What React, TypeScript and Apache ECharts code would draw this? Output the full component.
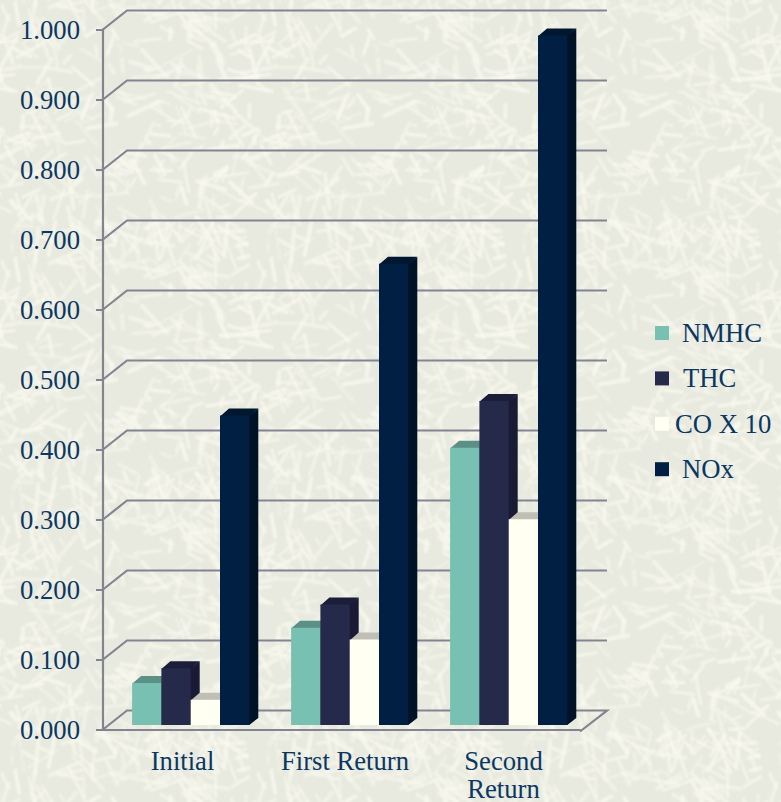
import React, { useEffect, useRef } from "react";
import * as echarts from "echarts";

const categories = ["Initial", "First Return", "Second\nReturn"];
const labelShift = [0, 7, 6];
const tickValues = [0, 0.1, 0.2, 0.3, 0.4, 0.5, 0.6, 0.7, 0.8, 0.9, 1.0];
const nmhc = [0.06, 0.139, 0.396];
const thc = [0.081, 0.172, 0.463];
const coX10 = [0.036, 0.122, 0.294];
const nox = [0.442, 0.659, 0.985];

const seriesNames = ["NMHC", "THC", "CO X 10", "NOx"];
const seriesValues = [nmhc, thc, coX10, nox];
const frontColors = ["#78C0B1", "#262A4A", "#FFFFF2", "#001F42"];
const topColors = ["#5A9085", "#1B1E38", "#BFBFB5", "#001730"];
const sideColors = ["#4E7F75", "#181B33", "#A9A9A0", "#001226"];
const legendPad = [8, 9, 1, 8];

const INK = "#0B3763";
const RULE = "#828492";
const FONT = '"Liberation Serif", "Times New Roman", serif';
const TEXT_SIZE = 26.67;

// Perspective offsets of the floor and of each bar's depth.
const WALL_DX = 24;
const WALL_DY = -19;
const BAR_DX = 9;
const BAR_DY = -7;
const BAR_W = 29.3;
const GROUP_SHIFT = 8.2;
const FLOOR_LIFT = 4.5;
// The side and top faces run slightly under the front face so no seam shows.
const SEAM = 0.8;

// Lays a tile of pale straw flecks on a canvas and returns it as an image URL.
function strawTexture(): string {
  const size = 256;
  const c = document.createElement("canvas");
  c.width = size;
  c.height = size;
  const g = c.getContext("2d")!;
  g.fillStyle = "#E9EADF";
  g.fillRect(0, 0, size, size);
  let s = 12345;
  const next = () => {
    s = (s * 1103515245 + 12345) & 0x7fffffff;
    return s / 0x7fffffff;
  };
  g.filter = "blur(0.8px)";
  g.lineCap = "butt";
  for (let i = 0; i < 360; i++) {
    const x = next() * size;
    const y = next() * size;
    const a = next() * Math.PI * 2;
    const len = 10 + next() * 30;
    const w = 2.4 + next() * 2;
    const alpha = 0.4 + next() * 0.45;
    g.strokeStyle = `rgba(248,248,238,${alpha})`;
    g.lineWidth = w;
    for (const ox of [-size, 0, size]) {
      for (const oy of [-size, 0, size]) {
        g.beginPath();
        g.moveTo(x + ox, y + oy);
        g.lineTo(x + ox + Math.cos(a) * len, y + oy + Math.sin(a) * len);
        g.stroke();
      }
    }
  }
  return c.toDataURL();
}

function barRenderer(seriesIndex: number) {
  return (_params: any, api: any) => {
    const cat = api.value(0);
    const val = api.value(1);
    const base = api.coord([cat, 0]);
    const top = api.coord([cat, val]);
    const x = base[0] + GROUP_SHIFT - 2 * BAR_W + seriesIndex * BAR_W;
    const y0 = base[1] - FLOOR_LIFT;
    const y1 = top[1] - FLOOR_LIFT;
    const x1 = x + BAR_W;
    return {
      type: "group",
      children: [
        {
          type: "polygon",
          shape: {
            points: [
              [x, y1 + SEAM],
              [x + BAR_DX, y1 + BAR_DY],
              [x1 + BAR_DX, y1 + BAR_DY],
              [x1, y1 + SEAM],
            ],
          },
          style: { fill: topColors[seriesIndex] },
        },
        {
          type: "polygon",
          shape: {
            points: [
              [x1 - SEAM, y1],
              [x1, y1],
              [x1 + BAR_DX, y1 + BAR_DY],
              [x1 + BAR_DX, y0 + BAR_DY],
              [x1, y0],
              [x1 - SEAM, y0],
            ],
          },
          style: { fill: sideColors[seriesIndex] },
        },
        { type: "rect", shape: { x, y: y1, width: BAR_W, height: y0 - y1 }, style: { fill: frontColors[seriesIndex] } },
      ],
    };
  };
}

export default function App() {
  const ref = useRef<HTMLDivElement>(null);

  useEffect(() => {
    ref.current!.style.backgroundImage = `url(${strawTexture()})`;
    const chart = echarts.init(ref.current!, undefined, { renderer: "svg" });
    chart.setOption({
      animation: false,
      backgroundColor: "transparent",
      textStyle: { fontFamily: FONT },
      grid: { left: 103, right: 201, top: 29.5, bottom: 72.5, containLabel: false, outerBoundsMode: "none" },
      legend: {
        orient: "vertical",
        left: 650,
        top: 313,
        itemWidth: 14,
        itemHeight: 14,
        itemGap: 15.4,
        icon: "rect",
        selectedMode: false,
        textStyle: { color: INK, fontSize: TEXT_SIZE, fontFamily: FONT, height: 30, lineHeight: 30 },
        data: seriesNames.map((name, i) => ({ name, textStyle: { padding: [0, 0, 0, legendPad[i]] } })),
      },
      xAxis: {
        type: "category",
        data: categories.map((value, i) => ({ value, textStyle: { padding: [0, 0, 0, labelShift[i]] } })),
        offset: 2,
        axisLine: { lineStyle: { color: RULE, width: 2.2 } },
        axisTick: { alignWithLabel: false, length: 6, lineStyle: { color: RULE, width: 2 } },
        axisLabel: { color: INK, fontSize: TEXT_SIZE, fontFamily: FONT, margin: 15, lineHeight: 28, interval: 0 },
      },
      yAxis: {
        type: "value",
        min: 0,
        max: 1,
        interval: 0.1,
        splitLine: { show: false },
        axisLine: { show: true, lineStyle: { color: RULE, width: 2.2 } },
        axisTick: { show: true, length: 7, lineStyle: { color: RULE, width: 2 } },
        axisLabel: { color: INK, fontSize: TEXT_SIZE, fontFamily: FONT, margin: 23, formatter: (v: number) => v.toFixed(3) },
      },
      series: [
        {
          // Back wall rules and the floor's far edge, one polyline per tick.
          type: "custom",
          silent: true,
          z: 1,
          data: tickValues.map((v) => [0, v]),
          encode: { x: 0, y: 1 },
          renderItem: (params: any, api: any) => {
            const p = api.coord([0, api.value(1)]);
            const left = params.coordSys.x;
            const right = left + params.coordSys.width;
            const points = [[left, p[1]], [left + WALL_DX, p[1] + WALL_DY], [right + 27, p[1] + WALL_DY]];
            if (api.value(1) === 0) points.push([right, p[1] + 2]);
            return {
              type: "polyline",
              shape: { points },
              style: { stroke: RULE, lineWidth: 2.2, fill: "none" },
            };
          },
        },
        ...seriesNames.map((name, i) => ({
          name,
          type: "custom",
          z: 2,
          itemStyle: { color: frontColors[i] },
          data: seriesValues[i].map((v, c) => [c, v]),
          encode: { x: 0, y: 1 },
          renderItem: barRenderer(i),
        })),
      ],
    });
    return () => chart.dispose();
  }, []);

  return (
    <div
      ref={ref}
      style={{ position: "absolute", left: 0, top: 0, width: 781, height: 802, overflow: "hidden" }}
    />
  );
}
